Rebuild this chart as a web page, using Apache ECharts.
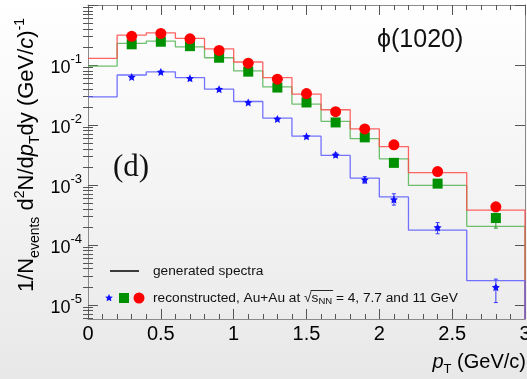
<!DOCTYPE html>
<html>
<head>
<meta charset="utf-8">
<script src="https://cdn.jsdelivr.net/npm/echarts@6/dist/echarts.min.js"></script>
<style>html,body{margin:0;padding:0;background:#fff}#c{width:527px;height:379px}</style>
</head>
<body>
<div id="c"></div>
<script>
// ---- data ----
const xEdges = [0, 0.2, 0.4, 0.6, 0.8, 1.0, 1.2, 1.4, 1.6, 1.8, 2.0, 2.2, 2.6, 3.0];
const histRed   = [0.129, 0.315, 0.344, 0.277, 0.186, 0.112, 0.0615, 0.0327, 0.0179, 0.00857, 0.00436, 0.00160, 3.8e-4];
const histGreen = [0.096, 0.229, 0.250, 0.200, 0.132, 0.0795, 0.043, 0.0223, 0.0115, 0.0059, 0.00272, 9.8e-4, 2.04e-4];
const histBlue  = [0.0294, 0.068, 0.0766, 0.0616, 0.0395, 0.0246, 0.013, 0.0065, 0.0031, 0.0013, 6.3e-4, 1.76e-4, 2.53e-5];

const ptX       = [0.3, 0.5, 0.7, 0.9, 1.1, 1.3, 1.5, 1.7, 1.9, 2.1, 2.4, 2.8];
const recoRed   = [0.300, 0.336, 0.273, 0.175, 0.107, 0.058, 0.0334, 0.0166, 0.00857, 0.00465, 0.00167, 4.3e-4];
const recoGreen = [0.221, 0.244, 0.206, 0.132, 0.0774, 0.042, 0.0237, 0.011, 0.0062, 0.00233, 0.00105, 2.8e-4];
const recoBlue  = [0.063, 0.0766, 0.060, 0.0395, 0.0237, 0.0126, 0.00645, 0.00317, 0.00122, 5.7e-4, 1.95e-4, 1.97e-5];

// error bars [low, high] (null = not visible)
const errRed   = [null, null, null, null, null, null, null, null, null, null, [1.55e-3, 1.8e-3], [3.7e-4, 5.0e-4]];
const errGreen = [null, null, null, null, null, null, null, null, null, [2.1e-3, 2.6e-3], [0.92e-3, 1.18e-3], [1.9e-4, 3.37e-4]];
const errBlue  = [null, null, null, null, null, null, null, [2.95e-3, 3.4e-3], [1.07e-3, 1.38e-3], [4.6e-4, 7.1e-4], [1.53e-4, 2.35e-4], [1.09e-5, 2.68e-5]];

const yMajor = [1e-5, 1e-4, 1e-3, 1e-2, 1e-1, 1];
const yMin = 5.8e-6, yMax = 1;

const yMinor = [];
for (let e = -6; e < 0; e++) for (let m = 2; m <= 9; m++) {
  const v = m * Math.pow(10, e);
  if (v > yMin && v < yMax) yMinor.push(v);
}

function histData(vals) {
  const d = vals.map((v, i) => [xEdges[i], v]);
  d.push([xEdges[xEdges.length - 1], vals[vals.length - 1]]);
  d.push([xEdges[xEdges.length - 1], yMin]);
  return d;
}
function errData(errs) {
  const d = [];
  errs.forEach((e, i) => { if (e) d.push([ptX[i], e[0], e[1]]); });
  return d;
}
const starPts = [[0,-10],[2.9,-4],[9.5,-3.1],[4.7,1.5],[5.9,8.1],[0,5],[-5.9,8.1],[-4.7,1.5],[-9.5,-3.1],[-2.9,-4]];
const starPath = 'path://M' + starPts.map(p => p.join(',')).join('L') + 'Z';

const FONT = 'Liberation Sans';
const axisColor = '#8a8a8a';
const tickColor = '#555';
const LEG_FONT = '13.7px "Liberation Sans"';

// measure legend text to place the overline of the square root
const mctx = document.createElement('canvas').getContext('2d');
mctx.font = LEG_FONT;
const legPre = 'reconstructed, Au+Au at ';
const sqrtX0 = 153 + mctx.measureText(legPre).width;
const sqrtW = mctx.measureText('√').width;
const sW = mctx.measureText('s').width;
mctx.font = '9.5px "Liberation Sans"';
const nnW = mctx.measureText('NN').width;

function errSeries(errs, color) {
  return {
    type: 'custom', z: 3, xAxisIndex: 0, yAxisIndex: 0,
    data: errData(errs),
    renderItem: function (params, api) {
      const p1 = api.coord([api.value(0), api.value(1)]);
      const p2 = api.coord([api.value(0), api.value(2)]);
      const s = { stroke: color, lineWidth: 1 };
      return { type: 'group', children: [
        { type: 'line', shape: { x1: p1[0], y1: p1[1], x2: p2[0], y2: p2[1] }, style: s },
        { type: 'line', shape: { x1: p1[0] - 2, y1: p1[1], x2: p1[0] + 2, y2: p1[1] }, style: s },
        { type: 'line', shape: { x1: p2[0] - 2, y1: p2[1], x2: p2[0] + 2, y2: p2[1] }, style: s }
      ]};
    }
  };
}

const chart = echarts.init(document.getElementById('c'), null, { renderer: 'canvas' });

const xBase = {
  type: 'value', min: 0, max: 3, interval: 0.5,
  axisLine: { show: true, onZero: false, lineStyle: { color: axisColor, width: 1 } },
  axisTick: { show: true, inside: true, length: 10, lineStyle: { color: tickColor } },
  minorTick: { show: true, splitNumber: 5, length: 5, lineStyle: { color: tickColor } },
  splitLine: { show: false }, minorSplitLine: { show: false }
};
const yBase = {
  type: 'log', logBase: 10, min: yMin, max: yMax,
  axisLine: { show: true, onZero: false, lineStyle: { color: axisColor, width: 1 } },
  splitLine: { show: false }
};

chart.setOption({
  animation: false,
  backgroundColor: {
    type: 'linear', x: 0, y: 0, x2: 0, y2: 1,
    colorStops: [{ offset: 0, color: '#ffffff' }, { offset: 1, color: '#e8e8e8' }]
  },
  textStyle: { fontFamily: FONT },
  grid: { left: 88, right: 2, top: 5, bottom: 60, containLabel: false, outerBoundsMode: 'none' },
  xAxis: [
    Object.assign({}, xBase, {
      position: 'bottom',
      axisLabel: { show: true, color: '#000', fontSize: 20, margin: 5, fontFamily: FONT, hideOverlap: false }
    }),
    Object.assign({}, xBase, { position: 'top', axisLabel: { show: false } })
  ],
  yAxis: [
    Object.assign({}, yBase, {
      position: 'left',
      axisTick: { show: true, inside: true, length: 10, customValues: yMajor, lineStyle: { color: tickColor } },
      axisLabel: {
        show: true, margin: 6, customValues: yMajor.filter(v => v < 1),
        formatter: function (v) { return '{b|10}{s|' + Math.round(Math.log10(v)) + '}'; },
        rich: {
          b: { fontSize: 18, color: '#000', fontFamily: FONT, lineHeight: 24, verticalAlign: 'bottom' },
          s: { fontSize: 13, color: '#000', fontFamily: FONT, lineHeight: 24, verticalAlign: 'top', padding: [0, 0, 10, 0] }
        }
      }
    }),
    Object.assign({}, yBase, {
      position: 'left', axisLine: { show: false },
      axisTick: { show: true, inside: true, length: 5, customValues: yMinor, lineStyle: { color: tickColor } },
      axisLabel: { show: false }
    }),
    Object.assign({}, yBase, {
      position: 'right',
      axisTick: { show: true, inside: true, length: 10, customValues: yMajor, lineStyle: { color: tickColor } },
      axisLabel: { show: false }
    }),
    Object.assign({}, yBase, {
      position: 'right', axisLine: { show: false },
      axisTick: { show: true, inside: true, length: 5, customValues: yMinor, lineStyle: { color: tickColor } },
      axisLabel: { show: false }
    })
  ],
  series: [
    { type: 'line', step: 'end', data: histData(histGreen), showSymbol: false, symbol: 'none',
      lineStyle: { color: '#55b455', width: 1.3, opacity: 0.85 }, z: 2 },
    { type: 'line', step: 'end', data: histData(histRed), showSymbol: false, symbol: 'none',
      lineStyle: { color: '#ff4a4a', width: 1.3, opacity: 0.85 }, z: 2 },
    { type: 'line', step: 'end', data: histData(histBlue), showSymbol: false, symbol: 'none',
      lineStyle: { color: '#5a5aff', width: 1.3, opacity: 0.85 }, z: 2 },
    errSeries(errBlue, '#3a3aff'),
    errSeries(errGreen, '#2a9a2a'),
    errSeries(errRed, '#ff2020'),
    { type: 'scatter', data: ptX.map((x, i) => [x, recoBlue[i]]), symbol: starPath, symbolSize: 8,
      itemStyle: { color: '#1010ff', opacity: 1 }, z: 4 },
    { type: 'scatter', data: ptX.map((x, i) => [x, recoGreen[i]]), symbol: 'rect', symbolSize: 10,
      itemStyle: { color: '#009000', opacity: 1 }, z: 4 },
    { type: 'scatter', data: ptX.map((x, i) => [x, recoRed[i]]), symbol: 'circle', symbolSize: 11,
      itemStyle: { color: '#ff0000', opacity: 1 }, z: 5 }
  ],
  graphic: [
    { type: 'text', x: 377, y: 40, style: { text: 'ϕ(1020)', font: '25px "Liberation Sans"', fill: '#111', verticalAlign: 'middle' } },
    { type: 'text', x: 113, y: 168, style: { text: '(d)', font: '31px "Liberation Serif"', fill: '#111', verticalAlign: 'middle' } },
    { type: 'line', shape: { x1: 110, y1: 271, x2: 139, y2: 271 }, style: { stroke: '#000', lineWidth: 1.5 } },
    { type: 'text', x: 153, y: 271, style: { text: 'generated spectra', font: LEG_FONT, fill: '#111', verticalAlign: 'middle' } },
    { type: 'polygon', shape: { points: starPts.map(p => [109 + p[0] * 0.4, 298 + p[1] * 0.4]) }, style: { fill: '#1010ff' } },
    { type: 'rect', shape: { x: 119, y: 293, width: 10, height: 10 }, style: { fill: '#009000' } },
    { type: 'circle', shape: { cx: 139, cy: 298, r: 5.5 }, style: { fill: '#ff0000' } },
    { type: 'text', x: 153, y: 298, style: {
      text: legPre + '√s{sub|NN} = 4, 7.7 and 11 GeV',
      font: LEG_FONT, fill: '#111', verticalAlign: 'middle',
      rich: { sub: { fontSize: 9.5, fontFamily: FONT, fill: '#111', padding: [7, 0, 0, 0] } }
    } },
    { type: 'line', shape: { x1: sqrtX0 + sqrtW - 1, y1: 290.5, x2: sqrtX0 + sqrtW + sW + nnW + 1, y2: 290.5 },
      style: { stroke: '#111', lineWidth: 0.9 } },
    { type: 'text', x: 526, y: 362, style: {
      text: '{i|p}{sub|T} (GeV/c)', font: '20px "Liberation Sans"', fill: '#000', align: 'right', verticalAlign: 'middle',
      rich: {
        i: { fontSize: 20, fontStyle: 'italic', fontFamily: FONT, fill: '#000' },
        sub: { fontSize: 13, fontFamily: FONT, fill: '#000', padding: [14, 0, 0, 0] }
      }
    } },
    { type: 'text', x: 27, y: 155, rotation: Math.PI / 2, style: {
      text: '1/N{sub|events} d{sup|2}N/d{i|p}{sub|T}dy (GeV/{i|c}){sup|-1}',
      font: '22px "Liberation Sans"', fill: '#000', align: 'center', verticalAlign: 'middle',
      rich: {
        i: { fontSize: 22, fontStyle: 'italic', fontFamily: FONT, fill: '#000' },
        sub: { fontSize: 14, fontFamily: FONT, fill: '#000', padding: [16, 0, 0, 0] },
        sup: { fontSize: 14, fontFamily: FONT, fill: '#000', padding: [0, 0, 14, 0] }
      }
    } }
  ]
});
</script>
</body>
</html>
